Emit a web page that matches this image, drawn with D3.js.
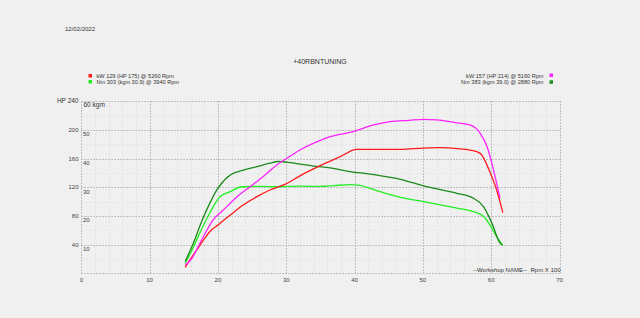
<!DOCTYPE html>
<html>
<head>
<meta charset="utf-8">
<script src="https://cdn.jsdelivr.net/npm/d3@7"></script>
<style>
  body { margin: 0; background: #f0f0f0; }
  svg { display: block; font-family: "Liberation Sans", Arial, sans-serif; }
</style>
</head>
<body>
<script>
const svgWidth = 640; //Width of SVG.
const svgHeight = 318; //Height of SVG.

//Rpm x 100 and HP for power curves.
const rpmKw129 = [15.2, 15.9, 16.9, 17.9, 18.8, 20.0, 21.8, 23.7, 25.7, 27.6, 29.8, 32.0, 34.9, 37.9, 40.3, 43.0, 46.7, 50.1, 52.5, 55.0, 56.9, 58.4, 59.8, 60.8, 61.7];
const hpKw129 = [8.4, 18.6, 32.5, 46.5, 58, 67.4, 81.3, 95.3, 106.9, 116.2, 124, 136, 149.8, 162.7, 173, 173, 173, 174.8, 175.3, 174, 172, 167.4, 141.8, 116.2, 84.6];

const rpmKw157 = [15.2, 16.2, 17.1, 18.4, 19.3, 20.8, 22.8, 24.7, 26.6, 28.6, 30.6, 32.0, 34.9, 36.4, 39.8, 42.8, 45.2, 48.0, 50.1, 52.0, 55.0, 56.9, 58.4, 59.4, 60.1, 60.8, 61.3];
const hpKw157 = [11.6, 20.9, 37.1, 60.4, 74.4, 88.3, 106.9, 120.8, 134.8, 151.1, 163.7, 172, 185, 190.6, 197.6, 207, 211.5, 213.5, 214.9, 214, 210, 207, 195.3, 176.6, 153.5, 125.6, 104.6];

//Rpm x 100 and kgm for torque curves.
const rpmNm303 = [15.2, 16.2, 17.1, 18.4, 19.3, 20.3, 21.8, 23.5, 26.0, 29.0, 32.0, 35.0, 37.0, 39.3, 40.8, 42.3, 44.0, 46.7, 50.1, 55.0, 57.4, 58.9, 59.8, 60.8, 61.7];
const kgmNm303 = [3.5, 8.1, 12.8, 19.2, 23.2, 26.7, 28.5, 30.2, 30.3, 30.2, 30.4, 30.3, 30.6, 30.9, 30.7, 29.6, 28.3, 26.5, 25, 22.7, 21.5, 19.8, 16.9, 12.8, 9.7];

const rpmNm383 = [15.2, 16.4, 17.6, 18.8, 20.0, 21.8, 23.7, 25.7, 27.6, 28.8, 30.6, 32.0, 34.0, 36.4, 39.3, 42.3, 45.2, 46.7, 50.1, 55.0, 57.4, 58.9, 60.1, 61.3, 61.7];
const kgmNm383 = [4.1, 10.5, 18, 24.4, 29.7, 34.3, 36, 37.2, 38.4, 39.0, 38.6, 38.1, 37.4, 36.8, 35.5, 34.6, 33.5, 32.8, 30.5, 27.9, 26.2, 23.2, 17.5, 10.5, 9.8];

const xTicks = [0, 10, 20, 30, 40, 50, 60, 70];
const hpTicks = [40, 80, 120, 160, 200];
const kgmTicks = [10, 20, 30, 40, 50];

const legendLeft = [
  { label: 'kW 129 (HP 175) @ 5260 Rpm', color: '#ff1a1a' },
  { label: 'Nm 303 (kgm 30.9) @ 3940 Rpm', color: '#22ee22' }
];
const legendRight = [
  { label: 'kW 157 (HP 214) @ 5160 Rpm', color: '#ff22ff' },
  { label: 'Nm 383 (kgm 39.0) @ 2880 Rpm', color: '#1a8a1a' }
];

const plotLeft = 81.3, plotRight = 559.5, plotTop = 101.3, plotBottom = 273.3;

let xScale = d3.scaleLinear().domain([0, 70]).range([plotLeft, plotRight]);
let yHp = d3.scaleLinear().domain([0, 240]).range([plotBottom, plotTop]);
let yKgm = d3.scaleLinear().domain([0, 60]).range([plotBottom, plotTop]);

let svg = d3.select('body').append('svg')
  .attr('width', svgWidth)
  .attr('height', svgHeight);

svg.append('rect').attr('width', svgWidth).attr('height', svgHeight).attr('fill', '#f0f0f0');

//Minor grid.
let grid = svg.append('g');
grid.selectAll('.vminor')
  .data(d3.range(0, 71, 2).filter(d => d % 10 !== 0))
  .enter().append('line')
  .attr('x1', d => Math.round(xScale(d)) + 0.5).attr('x2', d => Math.round(xScale(d)) + 0.5)
  .attr('y1', plotTop).attr('y2', plotBottom)
  .attr('stroke', '#e2e2e2').attr('stroke-width', 1).attr('stroke-dasharray', '2,2');
grid.selectAll('.hminor')
  .data(d3.range(20, 240, 40))
  .enter().append('line')
  .attr('x1', plotLeft).attr('x2', plotRight)
  .attr('y1', d => Math.round(yHp(d)) + 0.5).attr('y2', d => Math.round(yHp(d)) + 0.5)
  .attr('stroke', '#e6e6e6').attr('stroke-width', 1).attr('stroke-dasharray', '2,2');

//Major grid.
grid.selectAll('.vmajor')
  .data(xTicks)
  .enter().append('line')
  .attr('x1', d => Math.round(xScale(d)) + 0.5).attr('x2', d => Math.round(xScale(d)) + 0.5)
  .attr('y1', plotTop).attr('y2', plotBottom)
  .attr('stroke', '#b0b0b0').attr('stroke-width', 1).attr('stroke-dasharray', '1.5,1.5');
grid.selectAll('.hmajor')
  .data([0, 40, 80, 120, 160, 200, 240])
  .enter().append('line')
  .attr('x1', plotLeft).attr('x2', plotRight)
  .attr('y1', d => Math.round(yHp(d)) + 0.5).attr('y2', d => Math.round(yHp(d)) + 0.5)
  .attr('stroke', '#b0b0b0').attr('stroke-width', 1).attr('stroke-dasharray', '1.5,1.5');

//Axis labels.
svg.selectAll('.xlab')
  .data(xTicks)
  .enter().append('text')
  .attr('x', d => xScale(d))
  .attr('y', 282)
  .attr('text-anchor', 'middle')
  .attr('font-size', 6)
  .attr('fill', '#444')
  .text(d => d);

svg.selectAll('.hplab')
  .data(hpTicks)
  .enter().append('text')
  .attr('x', 78.5)
  .attr('y', d => yHp(d) + 2)
  .attr('text-anchor', 'end')
  .attr('font-size', 6)
  .attr('fill', '#444')
  .text(d => d);

svg.selectAll('.kgmlab')
  .data(kgmTicks)
  .enter().append('text')
  .attr('x', 83)
  .attr('y', d => yKgm(d) + 6.5)
  .attr('font-size', 6)
  .attr('fill', '#444')
  .text(d => d);

svg.append('text').attr('x', 78.5).attr('y', 103).attr('text-anchor', 'end')
  .attr('font-size', 6.5).attr('fill', '#333').text('HP 240');
svg.append('text').attr('x', 83.5).attr('y', 107).attr('font-size', 6.5)
  .attr('fill', '#333').text('60 kgm');

svg.append('text').attr('x', 473).attr('y', 271.5).attr('font-size', 6)
  .attr('fill', '#333').text('--Workshop NAME--');
svg.append('text').attr('x', 530.5).attr('y', 271.5).attr('font-size', 6)
  .attr('fill', '#333').text('Rpm X 100');

//Header.
svg.append('text').attr('x', 65).attr('y', 31).attr('font-size', 6)
  .attr('fill', '#333').text('12/02/2022');
svg.append('text').attr('x', 320).attr('y', 64).attr('text-anchor', 'middle')
  .attr('font-size', 7).attr('fill', '#333').text('+40RBNTUNING');

//Legends.
legendLeft.forEach((d, i) => {
  let y = 76 + i * 6;
  svg.append('rect').attr('x', 88.5).attr('y', y - 2).attr('width', 3.5).attr('height', 3.5).attr('fill', d.color);
  svg.append('text').attr('x', 96.5).attr('y', y + 2).attr('font-size', 5.6).attr('fill', '#333').text(d.label);
});
legendRight.forEach((d, i) => {
  let y = 75.5 + i * 6.8;
  svg.append('rect').attr('x', 549.5).attr('y', y - 2).attr('width', 3.5).attr('height', 3.5).attr('fill', d.color);
  svg.append('text').attr('x', 543.5).attr('y', y + 2).attr('text-anchor', 'end').attr('font-size', 5.6).attr('fill', '#333').text(d.label);
});

//Curves.
let hpLine = d3.line().x(d => xScale(d[0])).y(d => yHp(d[1])).curve(d3.curveMonotoneX);
let kgmLine = d3.line().x(d => xScale(d[0])).y(d => yKgm(d[1])).curve(d3.curveMonotoneX);

const curves = [
  { rpm: rpmNm303, val: kgmNm303, line: kgmLine, color: '#22ee22' },
  { rpm: rpmNm383, val: kgmNm383, line: kgmLine, color: '#1a8a1a' },
  { rpm: rpmKw129, val: hpKw129, line: hpLine, color: '#ff1a1a' },
  { rpm: rpmKw157, val: hpKw157, line: hpLine, color: '#ff22ff' }
];

curves.forEach(c => {
  svg.append('path')
    .datum(d3.zip(c.rpm, c.val))
    .attr('d', c.line)
    .attr('fill', 'none')
    .attr('stroke', c.color)
    .attr('stroke-width', 1.3);
});
</script>
</body>
</html>
